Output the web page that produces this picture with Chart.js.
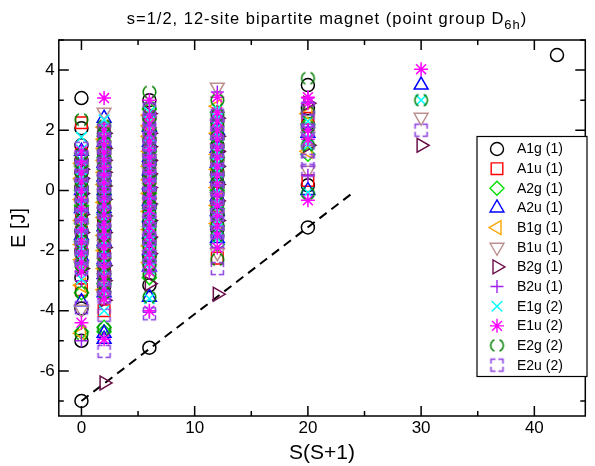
<!DOCTYPE html>
<html>
<head>
<meta charset="utf-8">
<script src="https://cdn.jsdelivr.net/npm/chart.js@4.4.1/dist/chart.umd.min.js"></script>
<style>
  html, body { margin: 0; padding: 0; background: #fff; }
  #wrap { width: 595px; height: 466px; }
</style>
</head>
<body>
<div id="wrap"><canvas id="graph" width="595" height="466"></canvas></div>
<script>
// S(S+1) of the spin sectors S = 0 .. 6
var ssValues = [0, 2, 6, 12, 20, 30, 42];

// energies [J] per irrep, one list per spin sector S = 0 .. 6
var A1g = [[-7.0, -5.0, -3.93, -2.9, -2.0, -1.35, -0.6, 0.1, 0.6, 1.0, 1.5, 2.07, 3.07],
           [-3.2, -2.7, -2.1, -1.6, -1.0, -0.6, -0.2, 0.2, 0.5, 0.9, 1.2, 1.9],
           [-5.23, -3.15, -2.2, -1.7, -1.1, -0.55, 0.0, 0.45, 0.9, 1.3, 1.7, 2.4, 3.0],
           [-1.3, -0.8, -0.4, 0.1, 0.6, 1.0, 1.5, 2.3],
           [-1.23, 0.17, 2.2, 2.73, 3.5],
           [],
           [4.5]];
var A1u = [[-3.3, -2.0, -1.4, -0.9, -0.3, 0.3, 0.8, 1.2, 2.25],
           [-4.0, -3.0, -2.7, -2.2, -1.6, -1.1, -0.5, -0.05, 0.4, 0.85, 1.3, 2.0],
           [-2.5, -2.0, -1.5, -0.9, -0.3, 0.2, 0.7, 1.1, 1.5, 1.9, 2.2],
           [-2.25, -0.9, -0.3, 0.3, 0.7, 1.1, 2.0],
           [0.33, 2.4],
           [], []];
var A2g = [[-4.7, -3.4, -2.4, -1.7, -1.1, -0.5, 0.0, 0.8],
           [-4.7, -4.55, -3.1, -2.5, -1.9, -1.35, -0.8, -0.25, 0.3, 0.7, 1.1, 1.8],
           [-2.9, -2.35, -1.8, -1.2, -0.6, -0.1, 0.4, 0.85, 1.3, 2.0, 2.7],
           [-1.8, -1.2, -0.6, 0.0, 0.5, 1.1, 1.7, 2.6],
           [1.2, 2.2],
           [], []];
var A2u = [[-3.7, -2.2, -1.5, -0.6, 0.0, 0.5, 1.3],
           [-4.95, -4.75, -3.4, -2.8, -2.3, -1.7, -1.2, -0.6, 0.0, 0.45, 0.9, 1.6, 2.4],
           [-3.55, -2.55, -2.0, -1.45, -0.9, -0.35, 0.2, 0.65, 1.1, 1.6, 2.1],
           [-1.6, -0.7, -0.2, 0.4, 0.9, 1.4, 2.0],
           [0.0, 1.9],
           [3.5], []];
var B1g = [[-4.75, -3.15, -2.3, -1.8, -1.0, -0.3, 0.4, 0.9],
           [-3.3, -2.6, -2.0, -1.5, -0.9, -0.4, 0.2, 0.6, 1.0, 1.4, 1.7, 2.1],
           [-2.4, -1.85, -1.3, -0.7, -0.1, 0.35, 0.8, 1.3, 1.8, 2.15, 2.5],
           [-1.1, -0.5, 0.1, 0.7, 1.2, 1.9, 2.8],
           [1.3, 2.55],
           [], []];
var B1u = [[-3.95, -2.5, -1.9, -1.2, -0.5, 0.2, 0.7, 1.1],
           [-3.5, -2.9, -2.4, -1.8, -1.3, -0.7, -0.1, 0.35, 0.8, 1.2, 1.5, 2.6],
           [-2.6, -2.15, -1.6, -1.0, -0.4, 0.1, 0.6, 1.05, 1.6, 1.95, 2.3],
           [-2.07, -1.3, -0.8, -0.2, 0.4, 0.9, 1.4, 2.2, 3.43],
           [0.67, 1.8],
           [2.43], []];
var B2g = [[-2.6, -1.4, -0.8, -0.1, 0.4, 0.7],
           [-6.4, -3.65, -3.0, -2.5, -1.9, -1.4, -0.85, -0.3, 0.15, 0.6, 1.0, 1.4, 1.9],
           [-3.1, -2.1, -1.55, -1.0, -0.45, 0.1, 0.55, 1.0, 1.45, 1.9, 2.55],
           [-3.45, -1.0, -0.35, 0.2, 0.8, 1.3, 1.8, 2.4],
           [1.5, 2.9],
           [1.5], []];
var B2u = [[-5.0, -3.0, -2.4, -1.9, -1.25, -0.7, -0.1, 0.4, 0.9, 1.2],
           [-3.0, -2.4, -1.8, -1.25, -0.7, -0.25, 0.1, 0.55, 1.0, 1.45, 1.8, 2.2],
           [-4.05, -2.3, -1.75, -1.2, -0.7, -0.2, 0.3, 0.8, 1.2, 1.6, 2.25, 2.9],
           [-1.4, -0.9, -0.3, 0.3, 0.8, 1.3, 1.8, 2.5, 3.27],
           [0.5, 3.07],
           [], []];
var E1g = [[-2.95, -2.55, -2.3, -1.9, -1.5, -1.15, -0.8, -0.5, -0.2, 0.1, 0.4, 0.7, 1.0, 1.35, 1.77],
           [-4.0, -3.45, -3.2, -2.85, -2.6, -2.3, -2.0, -1.7, -1.4, -1.15, -0.9, -0.65, -0.4, -0.15, 0.1, 0.35, 0.6, 0.85, 1.1, 1.35, 1.6, 1.85, 2.1, 2.35],
           [-3.6, -2.6, -2.3, -2.0, -1.7, -1.4, -1.1, -0.8, -0.55, -0.3, -0.05, 0.2, 0.45, 0.7, 0.95, 1.2, 1.5, 1.8, 2.05, 2.3, 2.6],
           [-1.6, -1.25, -1.0, -0.7, -0.4, -0.05, 0.3, 0.6, 0.9, 1.2, 1.5, 1.8, 2.1, 2.4, 2.7],
           [-0.07, 1.5, 1.75, 2.3],
           [3.0], []];
var E1u = [[-4.4, -2.7, -2.4, -2.1, -1.7, -1.3, -0.95, -0.6, -0.3, 0.0, 0.3, 0.6, 0.95, 1.3],
           [-4.95, -3.6, -3.3, -2.9, -2.55, -2.2, -1.9, -1.6, -1.35, -1.1, -0.8, -0.5, -0.25, 0.0, 0.25, 0.5, 0.75, 1.0, 1.25, 1.5, 1.75, 2.0, 3.07],
           [-4.0, -2.7, -2.4, -2.1, -1.8, -1.5, -1.2, -0.9, -0.65, -0.4, -0.15, 0.1, 0.35, 0.6, 0.85, 1.1, 1.35, 1.6, 1.9, 2.2, 2.5, 3.0],
           [-1.9, -1.5, -1.2, -0.85, -0.5, -0.15, 0.2, 0.5, 0.8, 1.1, 1.4, 1.7, 2.0, 2.3, 2.6, 3.1],
           [-0.33, 1.7, 2.0, 2.9, 3.1],
           [4.03], []];
var E2g = [[-4.77, -3.4, -2.5, -2.1, -1.7, -1.35, -1.0, -0.65, -0.3, 0.05, 0.3, 0.6, 0.9, 1.2, 2.35],
           [-4.6, -3.4, -3.1, -2.8, -2.5, -2.2, -1.85, -1.5, -1.2, -0.9, -0.6, -0.3, -0.05, 0.2, 0.5, 0.8, 1.05, 1.3, 1.6, 1.9, 2.15],
           [-3.55, -2.8, -2.5, -2.2, -1.9, -1.6, -1.3, -1.0, -0.75, -0.5, -0.25, 0.0, 0.3, 0.6, 0.85, 1.1, 1.4, 1.7, 2.05, 2.4, 2.75, 3.27],
           [-2.3, -1.5, -1.15, -0.8, -0.45, -0.1, 0.25, 0.5, 0.8, 1.1, 1.45, 1.8, 2.15, 2.5, 3.0],
           [-0.1, 1.5, 2.1, 2.6, 3.73],
           [3.0], []];
var E2u = [[-3.9, -2.6, -2.25, -1.9, -1.55, -1.2, -0.85, -0.5, -0.15, 0.2, 0.5, 0.8, 1.1, 1.4],
           [-5.35, -4.15, -3.55, -3.3, -2.95, -2.6, -2.3, -2.0, -1.65, -1.3, -1.0, -0.7, -0.4, -0.1, 0.15, 0.4, 0.65, 0.9, 1.15, 1.4, 1.7, 2.0],
           [-4.1, -2.5, -2.2, -1.9, -1.6, -1.3, -1.0, -0.7, -0.4, -0.1, 0.2, 0.5, 0.75, 1.0, 1.25, 1.5, 1.75, 2.0, 2.35, 2.7],
           [-2.6, -1.7, -1.4, -1.1, -0.8, -0.55, -0.25, 0.0, 0.35, 0.7, 1.0, 1.3, 1.6, 1.9, 2.2, 2.5],
           [0.67, 1.0, 1.3, 2.0, 2.3, 2.73],
           [2.0], []];

var irrepNames = ['A1g', 'A1u', 'A2g', 'A2u', 'B1g', 'B1u', 'B2g', 'B2u', 'E1g', 'E1u', 'E2g', 'E2u'];
var irrepDeg   = [1, 1, 1, 1, 1, 1, 1, 1, 2, 2, 2, 2];
var irrepLevels = [A1g, A1u, A2g, A2u, B1g, B1u, B2g, B2u, E1g, E1u, E2g, E2u];

// dashed guide line (tower of states)
var towerX = [0, 24];
var towerY = [-7.0, -0.07];

var xTicks = [0, 10, 20, 30, 40];
var yTicks = [-6, -4, -2, 0, 2, 4];

var FONT = "'Liberation Sans', Arial, Helvetica, sans-serif";

// open symbols with gaps (E2g, E2u)
function dashedCircle(color) {
    var c = document.createElement('canvas');
    c.width = 17; c.height = 17;
    var g = c.getContext('2d');
    g.strokeStyle = color;
    g.lineWidth = 1.5;
    g.beginPath(); g.arc(8.5, 8.5, 6.3, -Math.PI * 0.36, Math.PI * 0.36); g.stroke();
    g.beginPath(); g.arc(8.5, 8.5, 6.3, Math.PI * 0.64, Math.PI * 1.36); g.stroke();
    return c;
}
function dashedSquare(color) {
    var c = document.createElement('canvas');
    c.width = 17; c.height = 17;
    var g = c.getContext('2d');
    g.strokeStyle = color;
    g.lineWidth = 1.5;
    var a = 2.5, b = 14.5, l = 4.6;
    g.beginPath();
    g.moveTo(a + l, a); g.lineTo(a, a); g.lineTo(a, a + l);
    g.moveTo(b - l, a); g.lineTo(b, a); g.lineTo(b, a + l);
    g.moveTo(a + l, b); g.lineTo(a, b); g.lineTo(a, b - l);
    g.moveTo(b - l, b); g.lineTo(b, b); g.lineTo(b, b - l);
    g.stroke();
    return c;
}

var irrepStyle = [
    {color: '#000000', style: 'circle',    radius: 6.5, rot: 0},
    {color: '#ff0000', style: 'rect',      radius: 8.2, rot: 0},
    {color: '#00e000', style: 'rectRot',   radius: 7,   rot: 0},
    {color: '#0000ff', style: 'triangle',  radius: 8,   rot: 0},
    {color: '#ffa500', style: 'triangle',  radius: 8,   rot: -90},
    {color: '#bc8f8f', style: 'triangle',  radius: 8,   rot: 180},
    {color: '#6b0f4a', style: 'triangle',  radius: 8,   rot: 90},
    {color: '#a020f0', style: 'cross',     radius: 6.5, rot: 0},
    {color: '#00ffff', style: 'crossRot',  radius: 7.5, rot: 0},
    {color: '#ff00ff', style: 'star',      radius: 7,   rot: 0},
    {color: '#008000', style: dashedCircle('#008000'), radius: 7, rot: 0},
    {color: '#8a3ee0', style: dashedSquare('#8a3ee0'), radius: 7, rot: 0}
];

function toPoints(levels) {
    var pts = [];
    for (var i = 0; i < levels.length; i++) {
        for (var j = 0; j < levels[i].length; j++) {
            pts.push({x: ssValues[i], y: levels[i][j]});
        }
    }
    return pts;
}

var datasets = [];
for (var i = 0; i < irrepNames.length; i++) {
    var st = irrepStyle[i];
    datasets.push({
        type: 'scatter',
        label: irrepNames[i] + ' (' + irrepDeg[i] + ')',
        data: toPoints(irrepLevels[i]),
        borderColor: st.color,
        backgroundColor: 'rgba(0,0,0,0)',
        pointStyle: st.style,
        pointRadius: st.radius,
        pointRotation: st.rot,
        pointBorderWidth: 1.5,
        showLine: false,
        order: 20 - i
    });
}
datasets.push({
    type: 'line',
    label: 'tower',
    data: towerX.map(function(x, k){ return {x: x, y: towerY[k]}; }),
    borderColor: '#000',
    borderWidth: 2,
    borderDash: [9, 6],
    pointRadius: 0,
    fill: false,
    order: 30
});

var framePlugin = {
    id: 'frame',
    afterDraw: function(chart) {
        var ctx = chart.ctx;
        var a = chart.chartArea;
        var xs = chart.scales.x, ys = chart.scales.y;
        ctx.save();
        ctx.strokeStyle = '#000';
        ctx.lineWidth = 1.5;
        ctx.strokeRect(a.left, a.top, a.right - a.left, a.bottom - a.top);
        ctx.beginPath();
        // x ticks (inward, top and bottom)
        for (var v = 0; v <= 40; v += 5) {
            var px = xs.getPixelForValue(v);
            var len = (v % 10 === 0) ? 10 : 5;
            ctx.moveTo(px, a.bottom); ctx.lineTo(px, a.bottom - len);
            ctx.moveTo(px, a.top); ctx.lineTo(px, a.top + len);
        }
        // y ticks (inward, left and right)
        for (var w = -7; w <= 5; w += 1) {
            var py = ys.getPixelForValue(w);
            var ln = (w % 2 === 0) ? 10 : 5;
            ctx.moveTo(a.left, py); ctx.lineTo(a.left + ln, py);
            ctx.moveTo(a.right, py); ctx.lineTo(a.right - ln, py);
        }
        ctx.stroke();

        // title with subscript
        var main = 's=1/2, 12-site bipartite magnet (point group D';
        var sub = '6h', tail = ')';
        ctx.fillStyle = '#000';
        ctx.textBaseline = 'alphabetic';
        ctx.textAlign = 'left';
        ctx.letterSpacing = '1px';
        ctx.font = '16.5px ' + FONT;
        var w1 = ctx.measureText(main).width, w3 = ctx.measureText(tail).width;
        ctx.font = '13px ' + FONT;
        var w2 = ctx.measureText(sub).width;
        var x0 = 327 - (w1 + w2 + w3) / 2;
        ctx.font = '16.5px ' + FONT;
        ctx.fillText(main, x0, 24);
        ctx.fillText(tail, x0 + w1 + w2, 24);
        ctx.font = '13px ' + FONT;
        ctx.fillText(sub, x0 + w1, 29);
        ctx.letterSpacing = '0px';

        // legend box
        var bx = 477, by = 136.5, bw = 110, bh = 240;
        ctx.fillStyle = '#fff';
        ctx.fillRect(bx, by, bw, bh);
        ctx.lineWidth = 1.2;
        ctx.strokeStyle = '#000';
        ctx.strokeRect(bx, by, bw, bh);
        ctx.font = '14px ' + FONT;
        ctx.textBaseline = 'middle';
        for (var k = 0; k < chart.data.datasets.length; k++) {
            var ds = chart.data.datasets[k];
            if (ds.type !== 'scatter') continue;
            var ry = 149 + k * 19.65;
            ctx.strokeStyle = ds.borderColor;
            ctx.fillStyle = 'rgba(0,0,0,0)';
            ctx.lineWidth = 1.4;
            Chart.helpers.drawPoint(ctx, {
                pointStyle: ds.pointStyle,
                radius: ds.pointRadius,
                rotation: ds.pointRotation,
                borderWidth: 1.4
            }, 497, ry);
            ctx.fillStyle = '#000';
            ctx.fillText(ds.label, 517, ry + 0.5);
        }
        ctx.restore();
    }
};

Chart.defaults.font.family = FONT;

new Chart(document.getElementById('graph').getContext('2d'), {
    type: 'scatter',
    data: { datasets: datasets },
    options: {
        responsive: false,
        animation: false,
        devicePixelRatio: 1,
        layout: { padding: { top: 40, right: 5, left: 0, bottom: 0 } },
        plugins: { legend: { display: false }, tooltip: { enabled: false }, title: { display: false } },
        scales: {
            x: {
                type: 'linear', min: -2, max: 44.5,
                afterFit: function(s) { s.height = 50; },
                afterBuildTicks: function(s) { s.ticks = xTicks.map(function(v){ return {value: v}; }); },
                grid: { display: false, drawTicks: false },
                border: { display: false },
                ticks: { color: '#000', font: { size: 17 }, padding: 2, maxRotation: 0, autoSkip: false },
                title: { display: true, text: 'S(S+1)', color: '#000', font: { size: 21 }, padding: { top: 0, bottom: 0 } }
            },
            y: {
                type: 'linear', min: -7.5, max: 5,
                afterFit: function(s) { s.width = 58.8; },
                afterBuildTicks: function(s) { s.ticks = yTicks.map(function(v){ return {value: v}; }); },
                grid: { display: false, drawTicks: false },
                border: { display: false },
                ticks: { color: '#000', font: { size: 17 }, padding: 4, autoSkip: false },
                title: { display: true, text: 'E [J]', color: '#000', font: { size: 20 }, padding: { top: 7, bottom: 0 } }
            }
        }
    },
    plugins: [framePlugin]
});
</script>
</body>
</html>
